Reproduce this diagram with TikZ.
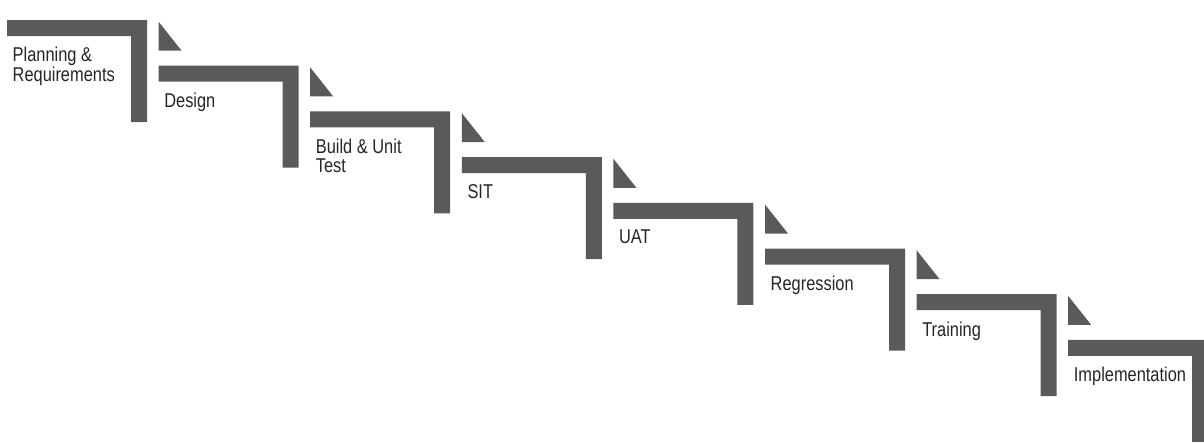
\documentclass[tikz,border=0pt]{standalone}
\usepackage{fontspec}
\newfontfamily\stepfont[FakeStretch=0.82]{Liberation Sans}
\usepackage{tikz}
\usetikzlibrary{arrows,positioning}
\definecolor{stepgray}{HTML}{5A5A5A}

\begin{document}
\begin{tikzpicture}[x=1pt,y=-1pt,
		stepbar/.style={fill=stepgray,draw=none},
		steplabel/.style={anchor=north west,inner sep=0pt,align=left,
			font=\stepfont\fontsize{20}{19.5}\selectfont,text=black!85},
	]
	\useasboundingbox (0,0) rectangle (1204,442);
	\foreach \i/\txt in {0/{Planning \&\\Requirements},1/Design,2/{Build \& Unit\\Test},
			3/SIT,4/UAT,5/Regression,6/Training,7/Implementation}{
		\pgfmathsetmacro\sx{7+151.6*\i}
		\pgfmathsetmacro\sy{20+45.7*\i}
		% the step itself
		\fill[stepbar] (\sx,\sy) -- ++(140,0) -- ++(0,102) -- ++(-16,0)
			-- ++(0,-86) -- ++(-124,0) -- cycle;
		\node[steplabel] (step-\i) at (\sx+5.5,\sy+27.2) {\txt};
		% small wedge above each later step
		\ifnum\i>0
			\fill[stepbar] (\sx,\sy-44) -- (\sx,\sy-15) -- (\sx+23,\sy-15) -- cycle;
		\fi
	}
\end{tikzpicture}
\end{document}
